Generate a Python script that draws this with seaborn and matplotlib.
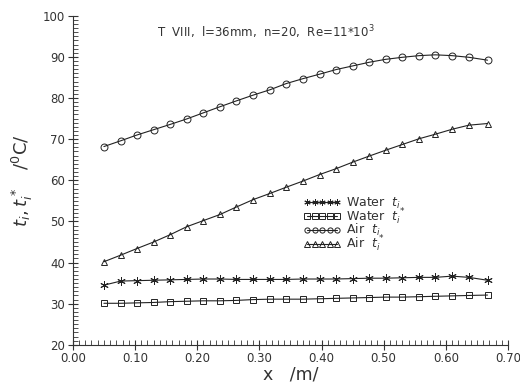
import numpy as np
import pandas as pd
import matplotlib
matplotlib.use("Agg")
import matplotlib.pyplot as plt
from matplotlib.ticker import MultipleLocator, FormatStrFormatter
import seaborn as sns

# positions along the channel /m/
x_pos = [0.050, 0.077, 0.103, 0.130, 0.157, 0.183, 0.210, 0.237, 0.263, 0.290, 0.317, 0.343,
         0.370, 0.397, 0.423, 0.450, 0.477, 0.503, 0.530, 0.557, 0.583, 0.610, 0.637, 0.667]

water_ti = [34.5, 35.5, 35.6, 35.7, 35.8, 35.9, 36.0, 36.0, 35.9, 35.9, 35.9, 35.9,
            36.0, 36.0, 36.0, 36.1, 36.2, 36.2, 36.3, 36.4, 36.4, 36.7, 36.4, 35.7]
water_ti_star = [30.1, 30.1, 30.2, 30.3, 30.5, 30.6, 30.7, 30.7, 30.8, 31.0, 31.1, 31.1,
                 31.1, 31.2, 31.3, 31.4, 31.5, 31.6, 31.6, 31.7, 31.8, 31.9, 32.0, 32.1]
air_ti = [68.2, 69.6, 71.0, 72.3, 73.6, 74.9, 76.4, 77.9, 79.3, 80.7, 82.0, 83.5,
          84.7, 85.8, 86.9, 87.8, 88.7, 89.4, 89.9, 90.3, 90.5, 90.3, 89.9, 89.2]
air_ti_star = [40.2, 41.8, 43.4, 45.0, 46.8, 48.7, 50.2, 51.7, 53.5, 55.3, 56.8, 58.3,
               59.8, 61.4, 62.8, 64.4, 65.9, 67.3, 68.7, 70.1, 71.2, 72.4, 73.4, 73.8]

labels = [r"Water  $t_i$", r"Water  $t_i^*$", r"Air  $t_i$", r"Air  $t_i^*$"]
markers = [(6, 2, 0), "s", "o", "^"]

sns.set_style("ticks")
plt.rcParams["font.family"] = ["DejaVu Sans"]
plt.rcParams["mathtext.fontset"] = "dejavusans"

ink = "#333333"
fig = plt.figure(figsize=(5.2, 3.84), dpi=100)
ax = fig.add_axes([0.140, 0.102, 0.837, 0.857])

series = [water_ti, water_ti_star, air_ti, air_ti_star]
for vals, lab, mk in zip(series, labels, markers):
    df = pd.DataFrame({"x": x_pos, "t": vals})
    sns.lineplot(data=df, x="x", y="t", ax=ax, color="#222222", linewidth=0.8,
                 marker=mk, markersize=5 if mk != (6, 2, 0) else 6,
                 markerfacecolor="none", markeredgecolor="#222222", markeredgewidth=0.7,
                 label=lab)

ax.set_xlim(0, 0.70)
ax.set_ylim(20, 100)
ax.xaxis.set_major_locator(MultipleLocator(0.1))
ax.xaxis.set_minor_locator(MultipleLocator(0.01))
ax.yaxis.set_major_locator(MultipleLocator(10))
ax.yaxis.set_minor_locator(MultipleLocator(1))
ax.xaxis.set_major_formatter(FormatStrFormatter("%.2f"))
ax.tick_params(which="major", direction="inout", length=7, width=0.8, labelsize=8.5,
               colors=ink, pad=2)
ax.tick_params(which="minor", direction="in", length=3.5, width=0.6, colors=ink)
sns.despine(ax=ax)
for s in ["left", "bottom"]:
    ax.spines[s].set_linewidth(0.8)
    ax.spines[s].set_color(ink)

ax.set_xlabel(r"x   /m/", fontsize=12.5, color=ink, labelpad=0)
ax.set_ylabel(r"$t_i, t_i^*$   /$^0$C/", fontsize=13, color=ink, labelpad=6)

ax.text(0.135, 96.0, r"T  VIII,  l=36mm,  n=20,  Re=11$*$10$^3$", fontsize=8.5,
        color=ink, va="center", ha="left")

leg = ax.legend(loc="upper left", bbox_to_anchor=(0.51, 0.48), frameon=False,
                numpoints=5, handlelength=3.0, handletextpad=0.4, labelspacing=-0.35,
                fontsize=9, markerscale=0.75, borderpad=0.2)
for t in leg.get_texts():
    t.set_color(ink)

fig.savefig("out.png", dpi=100)
